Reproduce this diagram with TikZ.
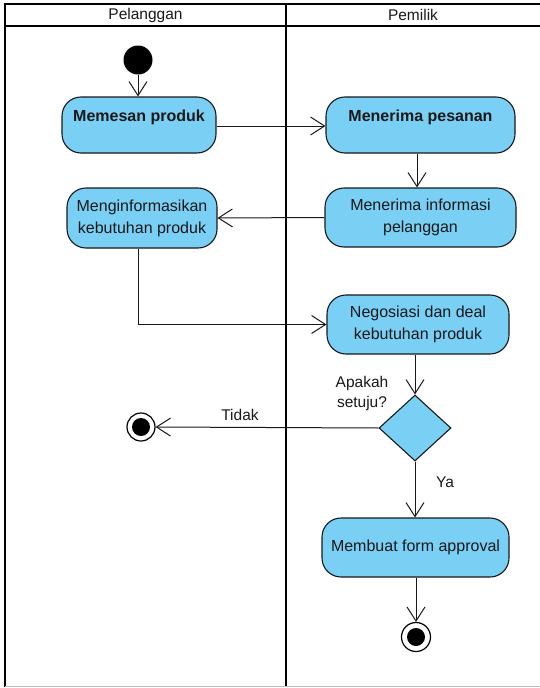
\documentclass[tikz,border=0pt]{standalone}
\usepackage{fontspec}
\setmainfont{Liberation Sans}
\usetikzlibrary{arrows.meta,shapes.geometric}
\definecolor{actfill}{RGB}{122,207,245}
\definecolor{ink}{RGB}{25,25,25}
\tikzset{
  act/.style={rectangle, rounded corners=19pt, draw=ink, line width=1.1pt, fill=actfill,
    text=ink, align=center, inner sep=0pt, font=\fontsize{16}{22}\selectfont},
  flow/.style={draw=ink, line width=1pt, -{Straight Barb[length=14pt,width=18pt,line width=1pt]}},
  lane/.style={draw=black, line width=2.2pt},
  lbl/.style={text=ink, font=\fontsize{15.5}{20}\selectfont, inner sep=0pt, align=center},
}
\begin{document}
\begin{tikzpicture}[x=1pt,y=-1pt]
\useasboundingbox (0,0) rectangle (540,688);
\fill[white] (0,0) rectangle (540,688);

% swimlane frame
\draw[lane] (5,4) -- (541,4);
\draw[lane] (5,26) -- (541,26);
\draw[lane] (5,3) -- (5,687);
\draw[lane] (286,3) -- (286,687);
\draw[black!25, line width=1pt] (5,686.5) -- (540,686.5);
\node[lbl] (laneA) at (145.5,15) {Pelanggan};
\node[lbl] (laneB) at (413,15) {Pemilik};

% start
\node[circle, fill=black, minimum size=29pt, inner sep=0pt] (start) at (138,60) {};

% activities
\node[act, minimum width=154pt, minimum height=56pt, font=\bfseries\fontsize{16}{18}\selectfont]
  (pesan) at (139,125) {Memesan produk\\\mbox{}};
\node[act, minimum width=189pt, minimum height=56pt, font=\bfseries\fontsize{16}{18}\selectfont]
  (terima) at (420.5,125) {Menerima pesanan\\\mbox{}};
\node[act, minimum width=191pt, minimum height=59pt] (info) at (420.5,217.5)
  {Menerima informasi\\pelanggan};
\node[act, minimum width=150pt, minimum height=60pt] (minta) at (142,218)
  {Menginformasikan\\kebutuhan produk};
\node[act, minimum width=182pt, minimum height=59pt] (nego) at (418,324.5)
  {Negosiasi dan deal\\kebutuhan produk};
\node[diamond, draw=ink, line width=1.1pt, fill=actfill, inner sep=0pt,
  minimum width=72pt, minimum height=66pt] (cek) at (415,428) {};
\node[act, minimum width=187pt, minimum height=59pt] (form) at (415.5,547.5)
  {Membuat form approval};

% final nodes
\node[circle, draw=black, line width=1.2pt, fill=white, minimum size=28pt, inner sep=0pt] (endA) at (141,427) {};
\node[circle, fill=black, minimum size=18pt, inner sep=0pt] (endAin) at (endA) {};
\node[circle, draw=black, line width=1.2pt, fill=white, minimum size=29pt, inner sep=0pt] (endB) at (416,637) {};
\node[circle, fill=black, minimum size=18pt, inner sep=0pt] (endBin) at (endB) {};

% labels
\node[lbl] (tanya) at (362,393.5) {Apakah\\setuju?};
\node[lbl] (tidak) at (240,415) {Tidak};
\node[lbl] (ya) at (445,482) {Ya};

% transitions
\draw[flow] (start.south) -- (start.south |- pesan.north);
\draw[flow] (pesan.east |- 0,126) -- (terima.west |- 0,126);
\draw[flow] (terima.south -| 417,0) -- (info.north -| 417,0);
\draw[flow] (info.west) -- (minta.east);
\draw[flow] (minta.south -| 138,0) |- (nego.west);
\draw[flow] (nego.south -| cek.north) -- (cek.north);
\draw[flow] (cek.west) -- (endA.east);
\draw[flow] (cek.south) -- (form.north -| cek.south);
\draw[flow] (form.south -| endB.north) -- (endB.north);
\end{tikzpicture}
\end{document}
